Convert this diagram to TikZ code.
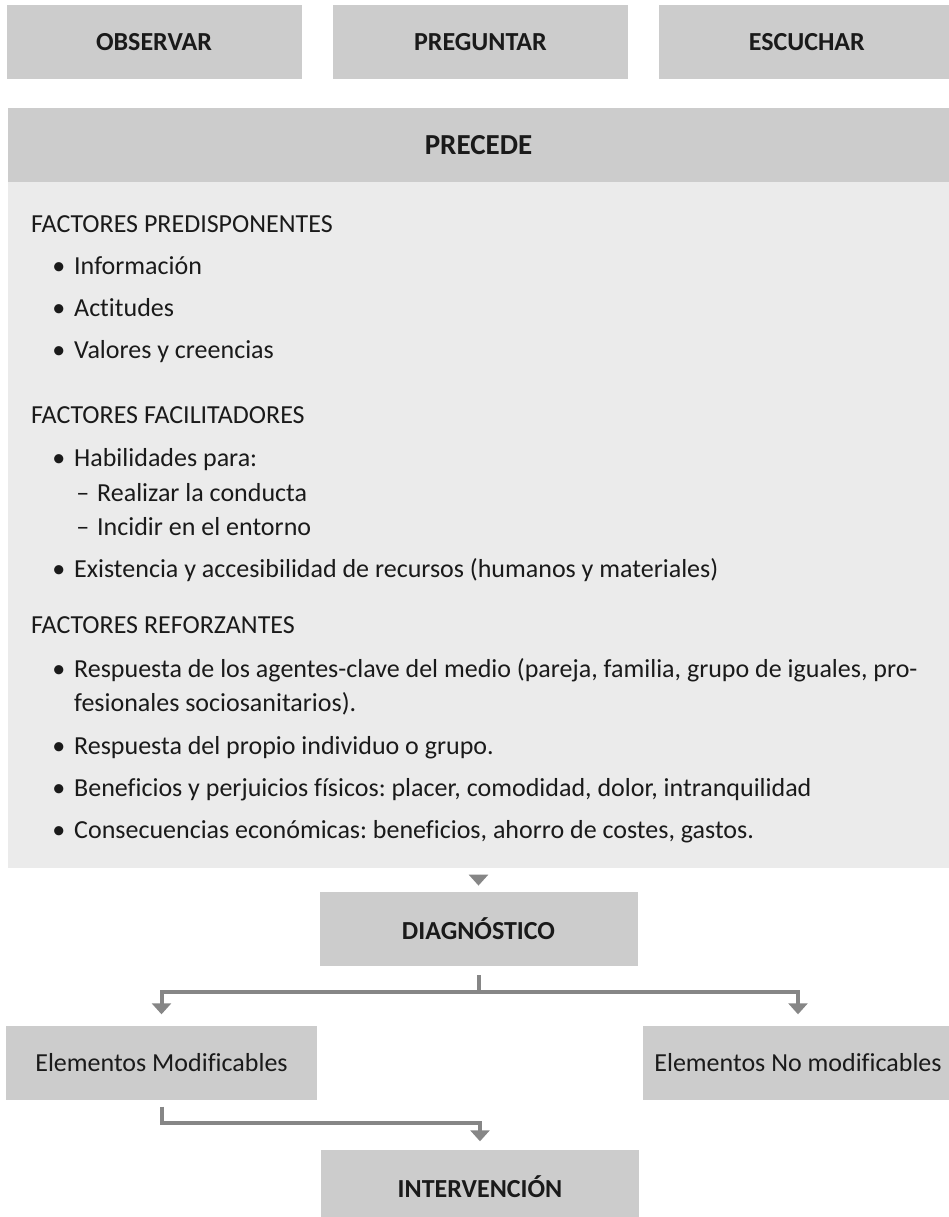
\documentclass[tikz,border=0pt]{standalone}
\usepackage{fontspec}
\setmainfont[Ligatures=NoCommon]{Carlito}
\usepackage{xcolor}
\definecolor{cBox}{HTML}{CCCCCC}
\definecolor{cPanel}{HTML}{EBEBEB}
\definecolor{cLine}{HTML}{868686}
\definecolor{cText}{HTML}{1A1A1A}
\usepackage{tikz}
\usetikzlibrary{positioning,arrows.meta,calc}
\frenchspacing
\newcommand{\itm}[1]{\llap{\textbullet\hspace{9pt}}#1}
\newcommand{\subitm}[1]{\llap{--\hspace{8pt}}#1}
\tikzset{
  node-box/.style={fill=cBox,minimum width=295pt,minimum height=74pt,
    inner sep=0pt,align=center,text=cText,
    font=\fontsize{26}{30}\selectfont\bfseries},
  node-elem/.style={node-box,minimum width=311pt,
    font=\fontsize{26}{30}\selectfont},
  node-head/.style={node-box,minimum width=941pt,
    font=\fontsize{29}{34}\selectfont\bfseries},
  node-panel/.style={fill=cPanel,minimum width=941pt,minimum height=686pt,
    inner sep=0pt},
  node-line/.style={anchor=base west,inner sep=0pt,text=cText,
    font=\fontsize{26}{30}\selectfont},
  arrow/.style={-{Triangle[length=11pt,width=19pt]},line width=4pt,draw=cLine},
}

\begin{document}
\begin{tikzpicture}[x=1pt,y=-1pt,node distance=31pt]
  \useasboundingbox (0,0) rectangle (949,1217);
  % fila superior
  \node[node-box] (observar) at (154,42) {OBSERVAR};
  \node[node-box,right=of observar] (preguntar) {PREGUNTAR};
  \node[node-box,right=of preguntar] (escuchar) {ESCUCHAR};

  % PRECEDE
  \node[node-head] (precede) at (478.5,145) {PRECEDE};
  \node[node-panel,below=0pt of precede] (panel) {};

  \node[node-line] (f-pred) at (31,232) {FACTORES PREDISPONENTES};
  \node[node-line] (i-info) at (74,274) {\itm{Información}};
  \node[node-line] (i-acti) at (74,316) {\itm{Actitudes}};
  \node[node-line] (i-valo) at (74,358) {\itm{Valores y creencias}};

  \node[node-line] (f-faci) at (31,423) {FACTORES FACILITADORES};
  \node[node-line] (i-habi) at (74,466) {\itm{Habilidades para:}};
  \node[node-line] (s-real) at (97,501) {\subitm{Realizar la conducta}};
  \node[node-line] (s-inci) at (97,535) {\subitm{Incidir en el entorno}};
  \node[node-line] (i-exis) at (74,577)
    {\itm{Existencia y accesibilidad de recursos (humanos y materiales)}};

  \node[node-line] (f-refo) at (31,633) {FACTORES REFORZANTES};
  \node[node-line] (i-resp) at (74,677)
    {\itm{Respuesta de los agentes-clave del medio (pareja, familia, grupo de iguales, pro-}};
  \node[node-line] (i-resp2) at (74,711) {fesionales sociosanitarios).};
  \node[node-line] (i-prop) at (74,754) {\itm{Respuesta del propio individuo o grupo.}};
  \node[node-line] (i-bene) at (74,796)
    {\itm{Beneficios y perjuicios físicos: placer, comodidad, dolor, intranquilidad}};
  \node[node-line] (i-cons) at (74,838)
    {\itm{Consecuencias económicas: beneficios, ahorro de costes, gastos.}};

  % diagnostico e intervencion
  \node[node-box,minimum width=318pt,below=23pt of panel] (diag) {DIAGNÓSTICO};
  \node[node-elem] (mod) at (161.5,1062.5) {Elementos Modificables};
  \node[node-elem] (nomod) at (798,1062.5) {Elementos No modificables};
  \node[node-box,minimum width=318pt] (interv) at (480,1186.5) {INTERVENCIÓN};

  \draw[arrow,shorten <=6pt,shorten >=6pt] (panel.south) -- (diag.north);
  \draw[arrow,shorten <=9pt,shorten >=11pt] (diag.south) -- ++(0,26) -| (mod.north);
  \draw[arrow,shorten <=9pt,shorten >=11pt] (diag.south) -- ++(0,26) -| (nomod.north);
  \draw[arrow,shorten <=7pt,shorten >=8pt] (mod.south) -- ++(0,23) -| (interv.north);
\end{tikzpicture}
\end{document}
